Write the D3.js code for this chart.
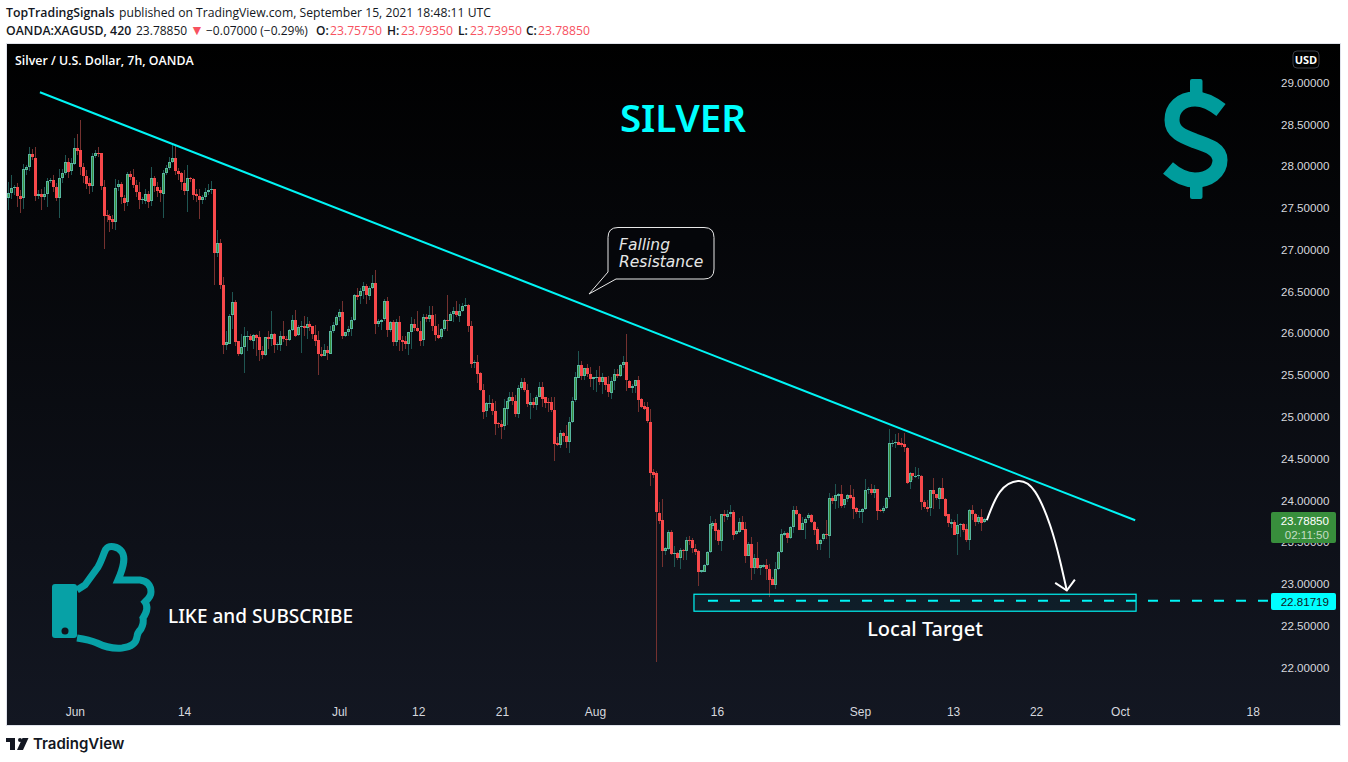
<![CDATA[<!DOCTYPE html>
<html><head><meta charset="utf-8">
<script src="https://cdn.jsdelivr.net/npm/d3@7"></script>
<style>
html,body{margin:0;padding:0;background:#fff;overflow:hidden}
svg{display:block}
text{font-family:"Open Sans",sans-serif}
.axis text{font-family:"Liberation Sans",sans-serif;fill:#d6d8de}
.axis path,.axis line{display:none}
</style></head><body>
<svg id="chart" width="1348" height="762"></svg>
<script>
const opens=[27.63,27.69,27.75,27.76,27.65,27.62,27.97,28.00,28.15,28.11,
27.66,27.68,27.64,27.68,27.83,27.84,27.76,27.63,27.87,27.93,
28.06,27.94,28.04,28.23,28.20,28.00,27.89,27.80,27.77,28.13,
28.17,28.16,27.76,27.42,27.41,27.37,27.34,27.75,27.79,27.63,
27.57,27.91,27.88,27.78,27.70,27.60,27.60,27.68,27.59,27.86,
27.76,27.72,27.68,27.93,27.99,28.06,28.11,27.95,27.92,27.81,
27.71,27.86,27.85,27.67,27.65,27.60,27.64,27.70,27.72,27.73,
26.97,27.09,26.59,25.87,25.89,26.22,26.38,25.91,25.76,25.84,
25.96,25.97,25.92,25.99,25.96,25.80,25.75,25.96,25.94,26.00,
25.87,25.87,25.98,25.94,25.93,26.05,26.17,25.98,26.08,26.09,
26.07,26.12,26.09,25.99,25.93,25.76,25.74,25.81,25.77,26.04,
26.11,26.20,26.26,25.97,26.02,26.06,26.17,26.47,26.45,26.51,
26.57,26.46,26.55,26.61,26.12,26.15,26.17,26.39,26.04,26.14,
25.90,26.14,25.93,25.92,25.88,26.02,26.12,26.07,26.04,25.92,
26.20,26.18,26.23,26.10,25.99,25.96,26.06,26.17,26.16,26.24,
26.27,26.22,26.28,26.34,26.35,26.10,25.65,25.66,25.53,25.33,
25.07,25.16,25.17,25.08,24.93,24.92,24.89,25.11,25.20,25.25,
25.20,25.04,25.35,25.42,25.33,25.16,25.19,25.15,25.25,25.37,
25.24,25.18,25.18,25.09,24.69,24.67,24.81,24.78,24.71,24.95,
25.20,25.48,25.63,25.50,25.59,25.52,25.46,25.47,25.48,25.42,
25.48,25.40,25.30,25.44,25.52,25.50,25.63,25.66,25.44,25.36,
25.38,25.45,25.22,25.14,25.12,24.95,24.35,24.33,23.86,23.77,
23.40,23.43,23.63,23.37,23.38,23.32,23.41,23.40,23.53,23.53,
23.43,23.40,23.15,23.16,23.23,23.39,23.71,23.74,23.65,23.52,
23.84,23.82,23.85,23.87,23.60,23.63,23.75,23.67,23.35,23.49,
23.20,23.32,23.20,23.22,23.24,23.19,23.07,23.00,23.19,23.39,
23.60,23.62,23.56,23.69,23.89,23.85,23.66,23.74,23.79,23.83,
23.75,23.67,23.49,23.54,23.60,23.59,24.04,24.00,24.07,24.09,
23.95,24.02,24.07,24.05,23.92,23.87,23.87,23.90,24.13,24.14,
24.09,24.14,23.89,23.88,23.92,24.04,24.69,24.70,24.71,24.69,
24.68,24.64,24.22,24.33,24.29,24.30,24.30,23.99,23.93,23.91,
24.13,24.08,24.03,24.16,24.03,23.84,23.73,23.75,23.60,23.71,
23.72,23.66,23.53,23.89,23.84,23.75,23.81,23.7575];
const closes=[27.69,27.75,27.76,27.65,27.62,27.97,28.00,28.15,28.11,27.66,
27.68,27.64,27.68,27.83,27.84,27.76,27.63,27.87,27.93,28.06,
27.94,28.04,28.23,28.20,28.00,27.89,27.80,27.77,28.13,28.17,
28.16,27.76,27.41,27.41,27.36,27.34,27.75,27.79,27.63,27.57,
27.91,27.88,27.78,27.70,27.60,27.61,27.68,27.59,27.86,27.76,
27.71,27.68,27.93,27.99,28.06,28.11,27.95,27.92,27.81,27.71,
27.86,27.85,27.66,27.65,27.60,27.64,27.70,27.72,27.73,26.97,
27.09,26.59,25.87,25.90,26.22,26.38,25.90,25.76,25.84,25.97,
25.97,25.92,25.99,25.96,25.80,25.75,25.96,25.94,26.00,25.87,
25.88,25.98,25.94,25.93,26.05,26.17,25.98,26.08,26.09,26.07,
26.12,26.08,25.99,25.92,25.76,25.74,25.81,25.77,26.04,26.11,
26.20,26.26,25.97,26.02,26.06,26.17,26.47,26.45,26.51,26.57,
26.46,26.55,26.61,26.12,26.15,26.17,26.39,26.04,26.14,25.90,
26.14,25.92,25.91,25.88,26.02,26.12,26.07,26.03,25.92,26.20,
26.18,26.23,26.10,25.99,25.96,26.06,26.17,26.16,26.24,26.27,
26.22,26.28,26.34,26.35,26.10,25.65,25.66,25.52,25.33,25.07,
25.17,25.17,25.08,24.92,24.92,24.89,25.11,25.20,25.25,25.20,
25.04,25.35,25.42,25.33,25.16,25.19,25.15,25.25,25.37,25.23,
25.17,25.17,25.09,24.68,24.67,24.81,24.78,24.71,24.95,25.20,
25.48,25.63,25.50,25.59,25.52,25.46,25.48,25.48,25.42,25.48,
25.39,25.30,25.44,25.52,25.50,25.63,25.66,25.44,25.36,25.38,
25.45,25.21,25.13,25.11,24.95,24.34,24.32,23.86,23.76,23.40,
23.44,23.63,23.37,23.38,23.32,23.41,23.40,23.53,23.52,23.43,
23.39,23.15,23.17,23.24,23.39,23.72,23.74,23.64,23.52,23.84,
23.82,23.85,23.87,23.60,23.64,23.75,23.66,23.35,23.49,23.20,
23.32,23.20,23.23,23.24,23.19,23.06,23.00,23.19,23.39,23.60,
23.62,23.56,23.69,23.89,23.84,23.66,23.74,23.79,23.83,23.75,
23.66,23.49,23.54,23.60,23.59,24.04,24.00,24.07,24.09,23.95,
24.02,24.07,24.04,23.91,23.87,23.88,23.90,24.13,24.14,24.09,
24.14,23.88,23.88,23.92,24.04,24.69,24.70,24.71,24.68,24.67,
24.64,24.22,24.33,24.29,24.30,24.31,23.99,23.93,23.91,24.13,
24.08,24.03,24.16,24.03,23.83,23.73,23.75,23.60,23.71,23.72,
23.65,23.53,23.89,23.84,23.75,23.81,23.74,23.7885];
const highs=[27.82,27.90,27.78,27.80,27.72,28.03,28.02,28.24,28.21,28.24,
27.72,27.73,27.76,27.86,27.87,27.90,27.80,27.97,27.97,28.14,
28.10,28.10,28.35,28.39,28.56,28.04,27.96,27.86,28.16,28.20,
28.24,28.17,27.84,27.48,27.44,27.42,27.85,27.84,27.82,27.66,
27.94,27.95,27.97,27.84,27.82,27.64,27.74,27.71,28.00,27.89,
27.82,27.76,27.96,28.02,28.12,28.26,28.26,27.98,27.94,27.96,
28.02,27.88,27.87,27.74,27.74,27.66,27.75,27.79,27.83,27.74,
27.24,27.13,26.68,26.03,26.24,26.50,26.41,25.92,26.00,26.08,
26.04,26.00,26.00,26.00,26.03,25.86,25.96,26.03,26.28,26.01,
25.90,26.03,26.16,25.98,26.06,26.23,26.29,26.11,26.15,26.22,
26.20,26.16,26.10,26.11,26.04,25.84,25.88,25.86,26.10,26.14,
26.23,26.30,26.39,26.02,26.10,26.20,26.48,26.55,26.55,26.62,
26.60,26.57,26.70,26.76,26.18,26.18,26.42,26.44,26.16,26.17,
26.18,26.21,25.98,25.97,26.02,26.20,26.18,26.27,26.16,26.24,
26.24,26.34,26.33,26.24,26.12,26.07,26.18,26.46,26.26,26.32,
26.39,26.36,26.37,26.43,26.36,26.16,25.69,25.75,25.54,25.40,
25.19,25.27,25.22,25.20,24.95,24.97,25.22,25.23,25.30,25.30,
25.27,25.39,25.47,25.47,25.40,25.29,25.23,25.27,25.43,25.42,
25.25,25.23,25.25,25.25,24.77,24.85,24.83,24.91,25.00,25.24,
25.55,25.79,25.67,25.59,25.64,25.60,25.49,25.57,25.62,25.53,
25.49,25.50,25.49,25.58,25.58,25.64,25.73,26.00,25.45,25.40,
25.45,25.50,25.23,25.19,25.19,25.10,24.38,24.36,23.99,24.03,
23.45,23.65,23.65,23.46,23.39,23.44,23.43,23.57,23.58,23.56,
23.49,23.42,23.18,23.25,23.40,23.82,23.76,23.79,23.66,23.85,
23.89,23.89,23.95,23.89,23.65,23.80,23.82,23.75,23.51,23.57,
23.37,23.51,23.23,23.25,23.31,23.25,23.09,23.27,23.40,23.67,
23.64,23.63,23.70,23.94,23.94,23.86,23.81,23.81,23.86,23.85,
23.76,23.69,23.55,23.62,23.77,24.10,24.06,24.20,24.10,24.19,
24.03,24.08,24.19,24.15,23.93,23.91,23.92,24.26,24.17,24.20,
24.19,24.15,23.91,23.94,24.05,24.86,24.73,24.80,24.82,24.75,
24.82,24.65,24.35,24.34,24.41,24.39,24.31,24.01,24.01,24.13,
24.28,24.09,24.17,24.28,24.04,23.85,23.78,23.77,23.84,23.74,
23.74,23.73,23.90,23.95,23.86,23.83,23.90,23.7935];
const lows=[27.48,27.62,27.66,27.52,27.45,27.50,27.90,27.95,28.08,27.59,
27.62,27.48,27.60,27.52,27.80,27.70,27.59,27.39,27.80,27.90,
27.87,27.90,28.02,28.14,27.90,27.80,27.74,27.67,27.70,28.10,
28.12,27.72,27.02,27.34,27.22,27.26,27.24,27.71,27.56,27.47,
27.53,27.84,27.75,27.64,27.50,27.55,27.56,27.51,27.53,27.70,
27.64,27.58,27.39,27.90,27.96,28.04,27.90,27.84,27.72,27.66,
27.46,27.82,27.60,27.58,27.38,27.56,27.60,27.66,27.68,26.58,
26.92,26.54,25.76,25.81,25.88,26.06,25.86,25.73,25.75,25.53,
25.80,25.91,25.82,25.74,25.68,25.70,25.73,25.82,25.86,25.77,
25.81,25.80,25.90,25.85,25.92,26.04,25.96,25.97,25.77,25.97,
25.94,26.04,25.94,25.86,25.51,25.72,25.73,25.69,25.76,26.01,
26.10,26.16,25.94,25.96,25.97,25.97,26.16,26.41,26.36,26.42,
26.36,26.41,26.54,26.00,26.08,26.05,26.16,25.96,26.02,25.85,
25.86,25.79,25.80,25.82,25.75,25.82,26.04,26.02,25.85,25.85,
26.14,26.14,26.04,25.91,25.94,25.94,26.04,26.04,26.15,26.14,
26.20,26.14,26.26,26.32,26.02,25.59,25.59,25.41,25.32,24.98,
25.00,25.11,25.03,24.79,24.87,24.74,24.85,24.91,25.19,25.15,
25.00,24.99,25.33,25.31,25.13,24.98,25.11,25.09,25.24,25.13,
25.11,25.07,25.07,24.48,24.66,24.63,24.71,24.64,24.58,24.94,
25.19,25.47,25.45,25.45,25.48,25.36,25.33,25.30,25.39,25.28,
25.33,25.25,25.22,25.33,25.47,25.49,25.59,25.32,25.35,25.29,
25.29,25.07,25.11,25.09,24.93,24.18,24.27,22.08,23.73,23.21,
23.36,23.41,23.35,23.21,23.30,23.19,23.29,23.29,23.48,23.38,
23.36,22.98,23.14,23.15,23.22,23.38,23.67,23.53,23.47,23.40,
23.75,23.77,23.81,23.54,23.59,23.62,23.65,23.26,23.34,23.06,
23.13,23.19,23.11,23.20,23.06,22.85,22.99,22.95,23.18,23.38,
23.58,23.50,23.55,23.62,23.83,23.65,23.65,23.55,23.77,23.74,
23.59,23.42,23.41,23.52,23.55,23.32,23.97,23.91,23.92,23.92,
23.92,23.99,24.03,23.79,23.85,23.80,23.74,23.89,24.09,24.07,
24.04,23.77,23.87,23.86,23.91,24.03,24.65,24.64,24.67,24.65,
24.59,24.21,24.14,24.25,24.28,24.26,23.89,23.91,23.87,23.82,
23.91,24.01,23.91,24.02,23.81,23.69,23.68,23.59,23.36,23.57,
23.63,23.51,23.41,23.77,23.70,23.73,23.64,23.7395];

const priceTicks=[29,28.5,28,27.5,27,26.5,26,25.5,25,24.5,24,23.5,23,22.5,22];
const timeTickBars=[22.4,59,110.9,137.4,165.5,196.6,237.5,285.4,316.6,344.4,372.5,417];
const timeTickLabels=["Jun","14","Jul","12","21","Aug","16","Sep","13","22","Oct","18"];
const trendBars=[10.7,377.6], trendPrices=[28.892,23.77];
const boxBars=[229.8,377.9], boxPrices=[22.885,22.682];
const targetPrice=22.81719, lastPrice=23.7885;
const pathBars=[327.9,332.3,338.5,344.1,349.1,352.4,354.7], pathPrices=[23.77,24.11,24.24,24.11,23.71,23.29,22.93];
const arrowBars=[350.8,354.7,357.4], arrowPrices=[23.02,22.93,23.06];

const cyan="#00f5f5", teal="#009c9c";
const svg=d3.select("#chart");
const defs=svg.append("defs");
const grad=defs.append("linearGradient").attr("id","bg").attr("x1",0).attr("y1",0).attr("x2",0).attr("y2",1);
grad.append("stop").attr("offset",0).attr("stop-color","#000000");
grad.append("stop").attr("offset",1).attr("stop-color","#131722");
defs.append("clipPath").attr("id","pane").append("rect").attr("x",7).attr("y",44).attr("width",1334).attr("height",681);

svg.append("rect").attr("x",6.5).attr("y",43.5).attr("width",1334).attr("height",682).attr("fill","url(#bg)").attr("stroke","#e0e3eb");

const x=d3.scaleLinear().domain([0,446.55]).range([8,1341]);
const y=d3.scaleLinear().domain([29,22]).range([83.2,668.2]);

const plot=svg.append("g").attr("clip-path","url(#pane)");
const bars=d3.range(closes.length);
const px=i=>Math.round(x(i));
plot.append("g").selectAll("rect").data(bars).join("rect")
 .attr("shape-rendering","crispEdges")
 .attr("x",i=>px(i)).attr("width",1)
 .attr("y",i=>y(highs[i])).attr("height",i=>y(lows[i])-y(highs[i]))
 .attr("fill",i=>closes[i]>=opens[i]?"#1f5552":"#74312f");
plot.append("g").selectAll("rect").data(bars).join("rect")
 .attr("shape-rendering","crispEdges")
 .attr("x",i=>px(i)-1).attr("width",3)
 .attr("y",i=>Math.round(y(Math.max(opens[i],closes[i]))))
 .attr("height",i=>Math.max(1,Math.round(Math.abs(y(opens[i])-y(closes[i])))))
 .attr("fill",i=>closes[i]>=opens[i]?"#57b79f":"#f7484a");
plot.append("g").selectAll("rect").data(bars.filter(i=>closes[i]>=opens[i])).join("rect")
 .attr("shape-rendering","crispEdges")
 .attr("x",i=>px(i)).attr("width",1)
 .attr("y",i=>Math.round(y(closes[i]))+1)
 .attr("height",i=>Math.max(0,Math.round(y(opens[i])-y(closes[i]))-2))
 .attr("fill","#388e3c");

// Trend line
const line=d3.line().x(d=>x(d[0])).y(d=>y(d[1]));
plot.append("path").attr("d",line(d3.zip(trendBars,trendPrices))).attr("fill","none").attr("stroke",cyan).attr("stroke-width",2);

// Target box and dashed level
plot.append("rect").attr("x",x(boxBars[0])).attr("width",x(boxBars[1])-x(boxBars[0]))
 .attr("y",y(boxPrices[0])).attr("height",y(boxPrices[1])-y(boxPrices[0]))
 .attr("fill","rgba(0,229,255,0.06)").attr("stroke",cyan).attr("stroke-width",1.2);
plot.append("line").attr("x1",708).attr("x2",1270).attr("y1",y(targetPrice)+0.8).attr("y2",y(targetPrice)+0.8)
 .attr("stroke",cyan).attr("stroke-width",2).attr("stroke-dasharray","10 12");

// Projected move
plot.append("path").attr("d",d3.line().x(d=>x(d[0])).y(d=>y(d[1])).curve(d3.curveNatural)(d3.zip(pathBars,pathPrices)))
 .attr("fill","none").attr("stroke","#fff").attr("stroke-width",2);
plot.append("path").attr("d",line(d3.zip(arrowBars,arrowPrices))).attr("fill","none").attr("stroke","#fff").attr("stroke-width",2);

// Axes
svg.append("g").attr("class","axis").attr("transform","translate(1270,0)")
 .call(d3.axisRight(y).tickValues(priceTicks).tickSize(0).tickPadding(11).tickFormat(d3.format(".5f")))
 .selectAll("text").attr("font-size",11.6).attr("dy","0.26em");
svg.append("g").attr("class","axis").attr("transform","translate(0,707)")
 .call(d3.axisBottom(x).tickValues(timeTickBars).tickSize(0).tickPadding(0).tickFormat((d,i)=>timeTickLabels[i]))
 .selectAll("text").attr("font-size",12).attr("dy","0.71em");

// Price labels
svg.append("rect").attr("x",1271).attr("y",512).attr("width",65).attr("height",31).attr("rx",2).attr("fill","#388e3c");
const lab=(t,xx,yy,o)=>svg.append("text").text(t).attr("x",xx).attr("y",yy).attr("fill",o.fill||"#fff").attr("font-size",o.size||12)
  .attr("font-weight",o.weight||400).attr("text-anchor",o.anchor||"start").attr("font-style",o.style||"normal").style("font-family",o.font||null);
lab(d3.format(".5f")(lastPrice),1329,525,{anchor:"end",size:11.6,font:"Liberation Sans"});
lab("02:11:50",1329,539,{anchor:"end",size:11.6,fill:"#c4ddc5",font:"Liberation Sans"});
svg.append("rect").attr("x",1271).attr("y",593).attr("width",65).attr("height",17).attr("rx",2).attr("fill","#00ffff");
lab(d3.format(".5f")(targetPrice),1329,606,{anchor:"end",size:11.6,fill:"#131722",font:"Liberation Sans"});

// USD badge
svg.append("rect").attr("x",1293).attr("y",51).attr("width",26).attr("height",17).attr("rx",4).attr("fill","#000").attr("stroke","#3a3d45");
lab("USD",1306,64,{anchor:"middle",size:11,weight:700});

// Header
lab("TopTradingSignals",6,17,{fill:"#131722",weight:600,size:12.3});
lab("published on TradingView.com, September 15, 2021 18:48:11 UTC",119,17,{fill:"#131722",size:12.16});
lab("OANDA:XAGUSD, 420",6,35,{fill:"#131722",weight:600,size:12.3});
lab("23.78850",136,35,{fill:"#131722",size:12});
lab("▼",190,35,{fill:"#f7525f",size:14});
lab("−0.07000 (−0.29%)",206,35,{fill:"#131722",size:12});
[["O:",316,"23.75750",330],["H:",387,"23.79350",401],["L:",458,"23.73950",470],["C:",526,"23.78850",538]].forEach(d=>{
  lab(d[0],d[1],35,{fill:"#131722",weight:600,size:12});
  lab(d[2],d[3],35,{fill:"#f7525f",size:12.2});
});
lab("Silver / U.S. Dollar, 7h, OANDA",15,65,{weight:600,size:12.35});

// Annotations
lab("SILVER",683,132,{anchor:"middle",fill:"#00ffff",weight:600,size:38.5,font:"Noto Sans"});
lab("LIKE and SUBSCRIBE",168,623,{size:19,weight:500,font:"Noto Sans"});
lab("Local Target",925,636,{anchor:"middle",size:20,weight:500,font:"Noto Sans"});

// Callout
svg.append("path").attr("d","M618,227.5 H704 Q714,227.5 714,237.5 V269 Q714,279 704,279 H616 L589,294 L608,272 V237.5 Q608,227.5 618,227.5 Z")
 .attr("fill","#05060a").attr("stroke","#e8e8e8").attr("stroke-width",1);
lab("Falling",619,250,{style:"italic",size:15.5,fill:"#e6e6e6",font:"DejaVu Sans"});
lab("Resistance",619,267,{style:"italic",size:15.5,fill:"#e6e6e6",font:"DejaVu Sans"});

// Dollar icon
const dollar=svg.append("g");
dollar.append("path").attr("d","M1221,110 C1212,103 1204,99 1195,99 C1181,99 1172,108 1172,120 C1172,132 1182,136 1195,141 C1210,146 1220,150 1220,160 C1220,172 1209,180 1195,180 C1184,180 1176,175 1168,168")
 .attr("fill","none").attr("stroke",teal).attr("stroke-width",15);
dollar.append("rect").attr("x",1190).attr("y",79).attr("width",12.5).attr("height",22).attr("rx",2).attr("fill",teal);
dollar.append("rect").attr("x",1190).attr("y",178).attr("width",12.5).attr("height",21).attr("rx",2).attr("fill",teal);

// Thumb icon
const thumb="#07a1a6";
svg.append("path").attr("d","M77,590 L85,585 L98,567 C102,560 104,552 106,549 C109,545 118,546 122,552 C125,557 125,564 118,580 L140,580 C148,581 151,586 151,592 C151,597 147,600 145,602 C148,606 147,612 143,618 C144,622 142,627 141,629 C138,632 137,634 137,637 C136,644 131,647 122,648 C110,649 103,646 97,643 C90,640 84,639 77,638")
 .attr("fill","none").attr("stroke",thumb).attr("stroke-width",7);
svg.append("rect").attr("x",52).attr("y",584).attr("width",25).attr("height",54).attr("rx",3).attr("fill",thumb);
svg.append("circle").attr("cx",65).attr("cy",631).attr("r",3.5).attr("fill","#10141d");

// TradingView logo
svg.append("path").attr("d","M6,738 H15 V750 H10 V742 H6 Z M20,738 A2,2 0 1 1 20,742 A2,2 0 1 1 20,738 Z M22.5,738 H28.5 L23,750 H17 Z").attr("fill","#131722");
lab("TradingView",33,749,{fill:"#131722",weight:600,size:15,font:"Inter"});
</script>
</body></html>]]>
